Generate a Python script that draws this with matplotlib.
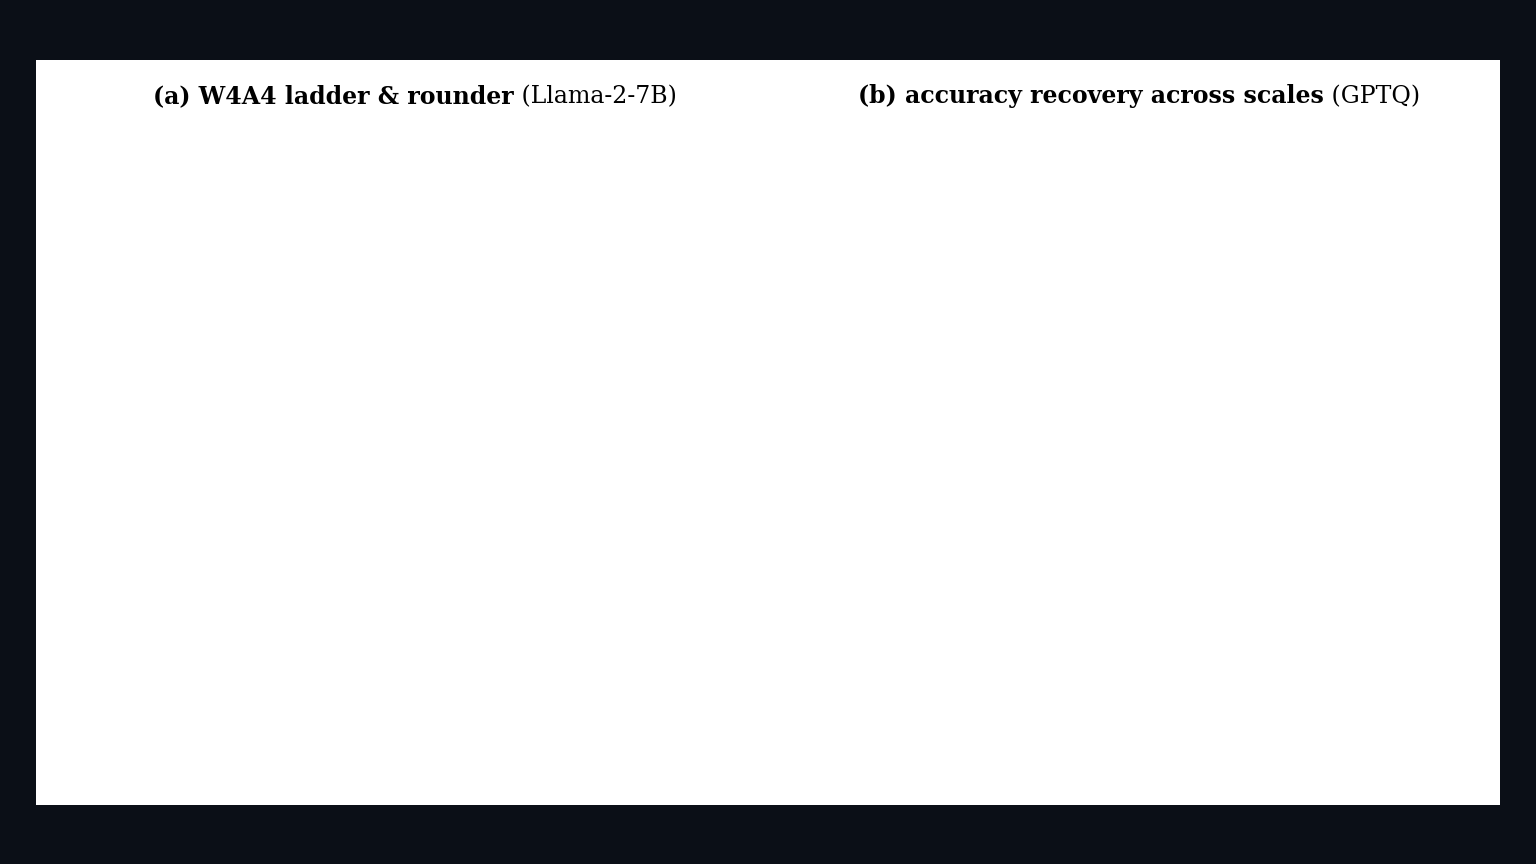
import matplotlib
matplotlib.use("Agg")
import matplotlib.pyplot as plt
import numpy as np
from matplotlib.patches import Rectangle

methods_a = ["SmoothQuant", "QuaRot", "SpinQuant", "FlatQuant"]
rtn_vals = [83.12, 8.56, 6.14, 5.79]
gptq_vals = [None, 6.10, 5.96, 5.78]
fp16_ppl = 5.47

models_b = ["L2-7B", "L2-13B", "L2-70B", "L3-8B", "L3-70B"]
quarot_acc = [65.0, 68.9, 75.7, 65.8, 70.5]
spinquant_acc = [66.2, 70.9, 76.0, 68.7, 71.6]
flatquant_acc = [67.5, 71.6, 76.5, 71.3, 78.6]
fp16_acc = [69.8, 72.6, 77.1, 73.2, 80.0]

plt.rcParams['font.family'] = ['DejaVu Serif']
C_RTN = "#9ba8b6"; C_GPTQ = "#2d5a8e"; C_QR = "#b5392f"; C_SQ = "#6c4b9b"

fig = plt.figure(figsize=(15.36, 8.64), dpi=100, facecolor="#0b0f17")
fig.patches.append(Rectangle((0.0234, 0.068), 0.9532, 0.8626, transform=fig.transFigure,
                             facecolor="white", edgecolor="none", zorder=0))

ax1 = fig.add_axes([0.102, 0.2002, 0.3765, 0.6586])
ax2 = fig.add_axes([0.584, 0.2002, 0.355, 0.655])
for ax in (ax1, ax2):
    ax.set_facecolor("white")
    ax.spines['top'].set_visible(False); ax.spines['right'].set_visible(False)
    ax.spines['left'].set_linewidth(1.3); ax.spines['bottom'].set_linewidth(1.3)

w = 0.365
x = np.arange(len(methods_a))
ax1.set_yscale('log')
for i in x:
    ax1.bar(i - 0.19, rtn_vals[i], w, color=C_RTN, label="RTN rounder" if i == 0 else None)
    ax1.text(i - 0.19, rtn_vals[i] * 1.025, f"{rtn_vals[i]:.2f}", ha='center', va='bottom',
             fontsize=12, color="#333333")
    if gptq_vals[i] is not None:
        ax1.bar(i + 0.19, gptq_vals[i], w, color=C_GPTQ, label="GPTQ rounder" if i == 1 else None)
        ax1.text(i + 0.19, gptq_vals[i] * 1.025, f"{gptq_vals[i]:.2f}", ha='center', va='bottom',
                 fontsize=12, color="#3d72b8")
ax1.axhline(fp16_ppl, color="#222222", ls=(0, (5, 3)), lw=1.6)
ax1.annotate(f"FP16 ({fp16_ppl})", xy=(2.35, 5.7), xytext=(2.35, 22), ha='center', va='bottom',
             fontsize=13, arrowprops=dict(arrowstyle='-', color='black', lw=1))
ax1.set_ylim(4.52, 119.6)
ax1.set_xlim(-0.56, 3.56)
ax1.set_xticks(x)
ax1.set_xticklabels(methods_a, rotation=20, ha='right', fontsize=15, rotation_mode='anchor')
ax1.tick_params(axis='y', labelsize=14)
ax1.set_ylabel("WikiText-2 perplexity (log scale)", fontsize=16)
ax1.legend(loc='upper right', frameon=False, fontsize=14, handlelength=2.6)

xb = np.arange(len(models_b)); wb = 0.26
ax2.bar(xb - wb, quarot_acc, wb, color=C_QR, label="QuaRot")
ax2.bar(xb, spinquant_acc, wb, color=C_SQ, label="SpinQuant")
ax2.bar(xb + wb, flatquant_acc, wb, color=C_GPTQ, label="FlatQuant")
for i in xb:
    ax2.plot([i - 0.5, i + 0.5], [fp16_acc[i]] * 2, color="#222222", ls=(0, (4, 2.5)), lw=2.2,
             label="FP16" if i == 0 else None)
ax2.set_ylim(60, 86)
ax2.set_xlim(-0.7, 4.75)
ax2.set_yticks([60, 65, 70, 75, 80, 85])
ax2.set_xticks(xb)
ax2.set_xticklabels(models_b, rotation=20, ha='right', fontsize=15, rotation_mode='anchor')
ax2.tick_params(axis='y', labelsize=14)
ax2.set_ylabel("zero-shot accuracy (avg., %)", fontsize=16)
h, l = ax2.get_legend_handles_labels()
order = [l.index(n) for n in ["FP16", "QuaRot", "SpinQuant", "FlatQuant"]]
ax2.legend([h[k] for k in order], [l[k] for k in order], loc='upper left', ncol=2,
           frameon=False, fontsize=14, handlelength=2.6, columnspacing=1.2,
           bbox_to_anchor=(0.0, 1.02))

for (xs, bold, rest) in [(0.0996, "(a) W4A4 ladder & rounder", " (Llama-2-7B)"),
                         (0.5586, "(b) accuracy recovery across scales", " (GPTQ)")]:
    t1 = fig.text(xs, 0.881, bold, fontsize=17, fontweight='bold', ha='left', va='baseline')
    fig.canvas.draw()
    fig.text(0, 0, "")
    bb = t1.get_window_extent()
    fig.text((bb.x1) / fig.bbox.width, 0.881, rest, fontsize=17, ha='left', va='baseline')

fig.savefig("out.png", dpi=100, facecolor=fig.get_facecolor())
